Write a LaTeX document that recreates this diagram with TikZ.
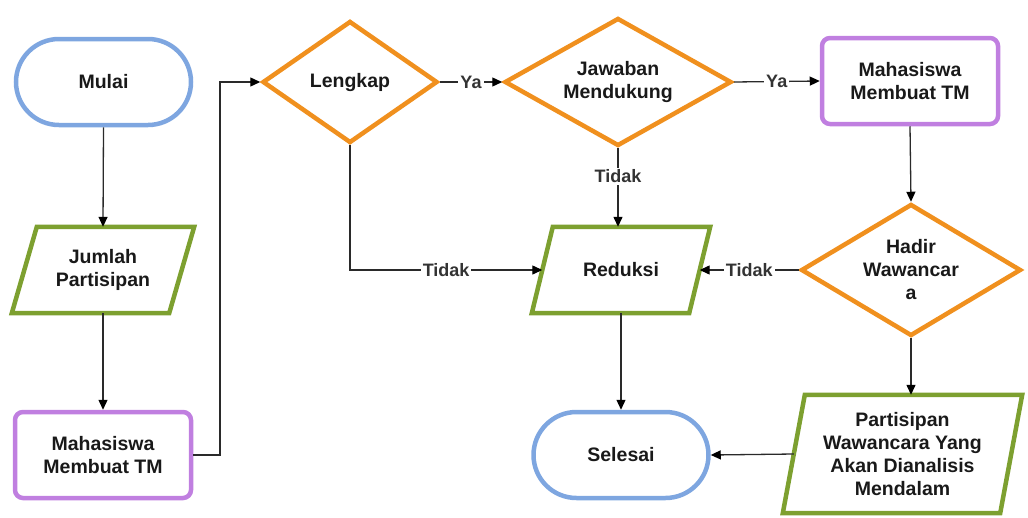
\documentclass[tikz,border=0pt]{standalone}
\usepackage{fontspec}
\setmainfont{Liberation Sans}
\usetikzlibrary{shapes.geometric,arrows.meta,calc}
\definecolor{cblue}{HTML}{7EA6E0}
\definecolor{cgreen}{HTML}{7DA030}
\definecolor{corange}{HTML}{F0901E}
\definecolor{cpurple}{HTML}{C07FE0}
\definecolor{cline}{HTML}{2A2A2A}
\definecolor{clbl}{HTML}{333333}
\tikzset{
  txt/.style={font=\fontsize{19.5}{23}\selectfont\bfseries, text=black!90, align=center, inner sep=0pt},
  terminal/.style={txt, draw=cblue, line width=4.5pt, rounded corners=43pt, minimum width=175pt, minimum height=86pt},
  procbox/.style={txt, draw=cpurple, line width=4.5pt, rounded corners=8pt, minimum width=176pt, minimum height=86pt},
  decision/.style={txt, draw=corange, line width=4.5pt, diamond},
  iobox/.style={txt, minimum height=86pt},
  para/.style={draw=cgreen, line width=4.5pt, line join=miter},
  conn/.style={draw=cline, line width=1.3pt, -{Triangle[length=10pt,width=9pt,color=black]}},
  lbl/.style={font=\fontsize{18}{20}\selectfont\bfseries, text=clbl, fill=white, inner sep=2pt}
}
\begin{document}
\begin{tikzpicture}[x=1pt,y=-1pt]
\useasboundingbox (0,0) rectangle (1028,517);
% nodes
\node[terminal] (mulai) at (103.5,82) {Mulai};
\node[iobox, minimum width=157pt] (jumlah) at (103,270) {Jumlah\\Partisipan};
\node[procbox] (mhs1) at (103,455) {Mahasiswa\\Membuat TM};
\node[decision, aspect=1.43, minimum width=175pt, minimum height=122pt] (lengkap) at (350,82) {Lengkap};
\node[decision, aspect=1.77, minimum width=227pt, minimum height=128pt] (jawaban) at (618,82) {Jawaban\\Mendukung};
\node[procbox] (mhs2) at (910,81) {Mahasiswa\\Membuat TM};
\node[decision, aspect=1.67, minimum width=220pt, minimum height=132pt] (hadir) at (911,270) {Hadir\\Wawancar\\a};
\node[iobox, minimum width=157pt] (reduksi) at (621,270) {Reduksi};
\node[terminal] (selesai) at (621,455) {Selesai};
\node[iobox, minimum width=217pt, minimum height=118pt] (part) at (902.5,454) {Partisipan\\Wawancara Yang\\Akan Dianalisis\\Mendalam};
% parallelogram outlines
\draw[para] ([xshift=12.5pt]jumlah.north west) -- ([xshift=12.5pt]jumlah.north east) -- ([xshift=-12.5pt]jumlah.south east) -- ([xshift=-12.5pt]jumlah.south west) -- cycle;
\draw[para] ([xshift=10.5pt]reduksi.north west) -- ([xshift=10.5pt]reduksi.north east) -- ([xshift=-10.5pt]reduksi.south east) -- ([xshift=-10.5pt]reduksi.south west) -- cycle;
\draw[para] ([xshift=11pt]part.north west) -- ([xshift=11pt]part.north east) -- ([xshift=-11pt]part.south east) -- ([xshift=-11pt]part.south west) -- cycle;
% connectors
\coordinate (bend) at (220,82);
\draw[conn] (mulai.south) -- (jumlah.north);
\draw[conn] (jumlah.south) -- (mhs1.north);
\draw[conn] (mhs1.east) -| (bend) -- (lengkap.west);
\draw[conn] (lengkap.east) -- node[lbl] (ya1) {Ya} (jawaban.west);
\draw[conn] (jawaban.east) -- node[lbl] (ya2) {Ya} (mhs2.west);
\draw[conn] (mhs2.south) -- (hadir.north);
\draw[conn] (jawaban.south) -- node[lbl, pos=0.36] (t1) {Tidak} (jawaban.south |- reduksi.north);
\draw[conn] (lengkap.south) |- node[lbl, pos=0.75] (t2) {Tidak} (reduksi.west);
\draw[conn] (hadir.west) -- node[lbl] (t3) {Tidak} (reduksi.east);
\draw[conn] (reduksi.south) -- (selesai.north);
\draw[conn] (hadir.south) -- (hadir.south |- part.north);
\draw[conn] (part.west) -- (selesai.east);
\end{tikzpicture}
\end{document}
